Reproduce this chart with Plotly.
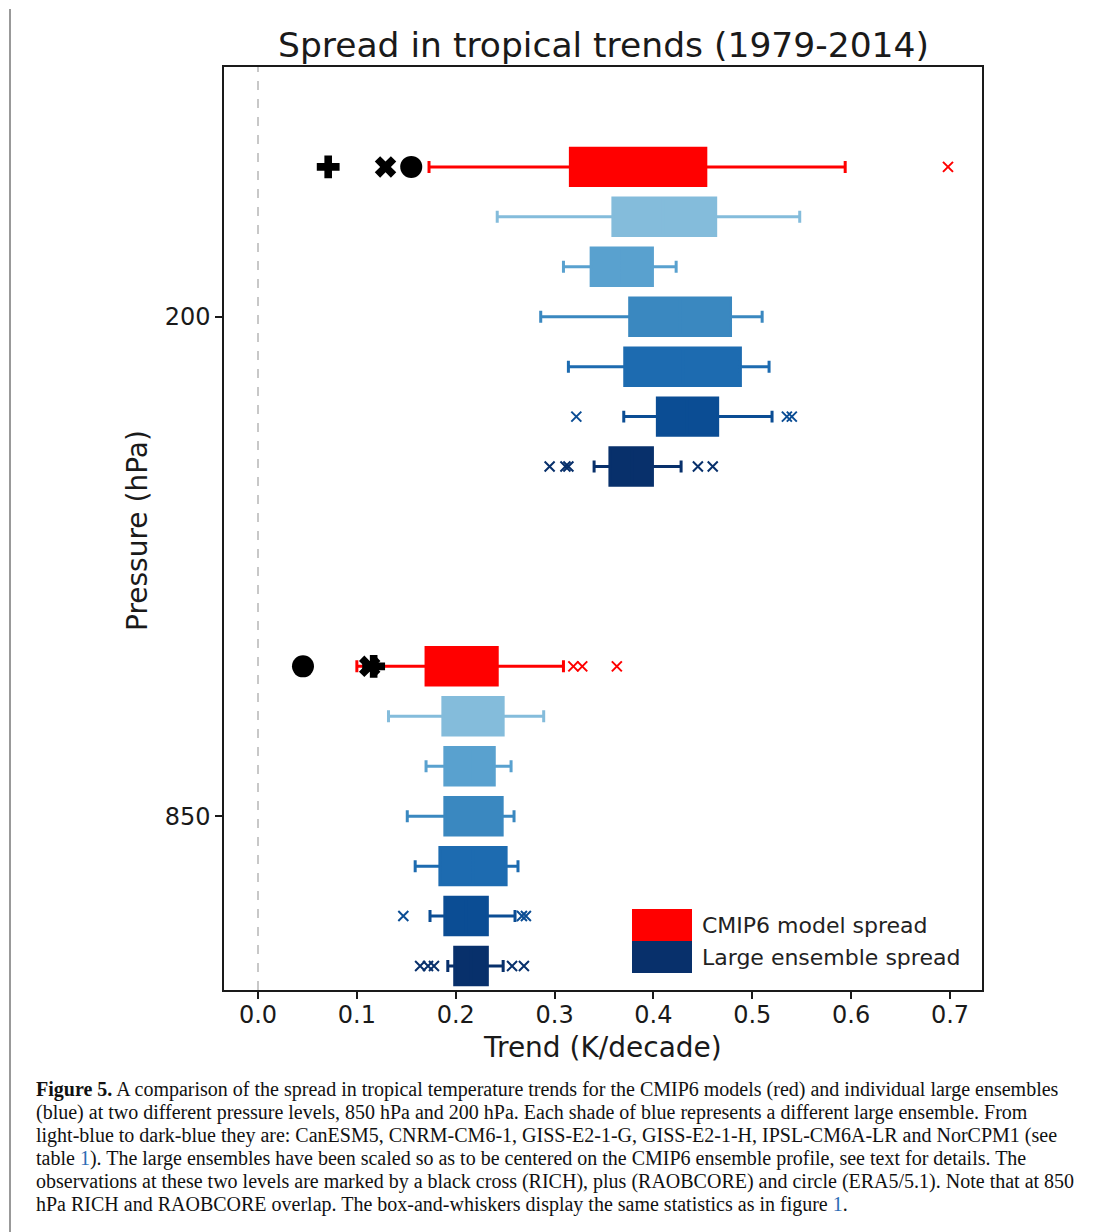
import plotly.graph_objects as go

# ---------------- data ----------------
levels = ["200", "850"]
ensembles = ["CMIP6", "CanESM5", "CNRM-CM6-1", "GISS-E2-1-G",
             "GISS-E2-1-H", "IPSL-CM6A-LR", "NorCPM1"]

# 200 hPa box statistics (K/decade)
whislo_200 = [0.173, 0.242, 0.309, 0.286, 0.314, 0.370, 0.340]
q1_200     = [0.316, 0.359, 0.337, 0.376, 0.371, 0.404, 0.356]
med_200    = [0.385, 0.410, 0.368, 0.427, 0.430, 0.434, 0.378]
q3_200     = [0.453, 0.463, 0.399, 0.478, 0.488, 0.465, 0.399]
whishi_200 = [0.594, 0.548, 0.423, 0.510, 0.517, 0.520, 0.428]
fliers_200 = [[0.698], [], [], [], [], [0.322, 0.535, 0.540],
              [0.295, 0.311, 0.314, 0.445, 0.460]]

# 850 hPa box statistics (K/decade)
whislo_850 = [0.100, 0.132, 0.170, 0.151, 0.159, 0.174, 0.192]
q1_850     = [0.170, 0.187, 0.189, 0.189, 0.184, 0.189, 0.199]
med_850    = [0.205, 0.218, 0.214, 0.218, 0.217, 0.210, 0.215]
q3_850     = [0.242, 0.248, 0.239, 0.247, 0.251, 0.232, 0.232]
whishi_850 = [0.309, 0.289, 0.256, 0.259, 0.263, 0.260, 0.248]
fliers_850 = [[0.319, 0.328, 0.363], [], [], [], [], [0.147, 0.267, 0.271],
              [0.164, 0.172, 0.178, 0.257, 0.269]]

# observations (K/decade) per level: 200, 850
obs_rich     = [0.129, 0.113]   # cross
obs_raobcore = [0.071, 0.117]   # plus
obs_era5     = [0.155, 0.0455]  # circle

x_ticks = [0.0, 0.1, 0.2, 0.3, 0.4, 0.5, 0.6, 0.7]

# ---------------- styles ----------------
colors = ["#ff0000", "#84bcdb", "#59a1cf", "#3a88c0", "#1d6bb0", "#0b4d94", "#08306b"]
font_sans = "DejaVu Sans"
OFF = 8                      # default page body margin of the html page
PW, PH = 1096, 1232          # page size
W, H = PW - OFF, PH - OFF    # figure size
L, R, T, B = 224, 982, 67, 990  # plot area in page pixels


def px_x(p):
    return (p - L) / (R - L)


def px_y(p):
    return (B - p) / (B - T)


def slot(li, ei):
    return 2 + 10 * li + ei


stats = {
    0: (whislo_200, q1_200, med_200, q3_200, whishi_200, fliers_200),
    1: (whislo_850, q1_850, med_850, q3_850, whishi_850, fliers_850),
}

fig = go.Figure()

for li in range(len(levels)):
    lo, q1, md, q3, hi, fl = stats[li]
    for ei in range(len(ensembles)):
        c = colors[ei]
        fig.add_trace(go.Box(
            orientation="h",
            y=[slot(li, ei)],
            q1=[q1[ei]], median=[md[ei]], q3=[q3[ei]],
            lowerfence=[lo[ei]], upperfence=[hi[ei]],
            width=0.75, whiskerwidth=0.32,
            fillcolor=c, line=dict(color=c, width=3),
            boxpoints=False, showlegend=False, hoverinfo="skip",
        ))
        if fl[ei]:
            fig.add_trace(go.Scatter(
                x=fl[ei], y=[slot(li, ei)] * len(fl[ei]), mode="markers",
                marker=dict(symbol="x-thin", size=10,
                            line=dict(color=c, width=2), color=c),
                showlegend=False, hoverinfo="skip",
            ))

# observations
for vals, sym, size in [(obs_raobcore, "cross", 19), (obs_rich, "x", 19),
                        (obs_era5, "circle", 22)]:
    fig.add_trace(go.Scatter(
        x=vals, y=[slot(li, 0) for li in range(len(levels))], mode="markers",
        marker=dict(symbol=sym, size=size, color="black", line=dict(width=0)),
        showlegend=False, hoverinfo="skip",
    ))

fig.add_vline(x=0, line=dict(color="#c8c8c8", width=2, dash="dash"), layer="below")

axis_common = dict(showgrid=False, zeroline=False, showline=True, mirror=True,
                   linecolor="#1a1a1a", linewidth=1.5, ticks="outside", ticklen=7,
                   tickwidth=1.5, tickcolor="#1a1a1a",
                   tickfont=dict(family=font_sans, size=24, color="#1a1a1a"))

fig.update_xaxes(range=[-0.0344, 0.7324], tickvals=x_ticks,
                 ticktext=[f"{v:.1f}" for v in x_ticks], ticklabelstandoff=-5,
                 **axis_common)
fig.update_yaxes(range=[18.48, 0],
                 tickvals=[slot(li, 3) for li in range(len(levels))],
                 ticktext=levels, **axis_common)

shapes = []
# page frame
shapes.append(dict(type="line", xref="paper", yref="paper", x0=px_x(10), x1=px_x(PW),
                   y0=px_y(OFF + 1.5), y1=px_y(OFF + 1.5), line=dict(color="#999999", width=2)))
shapes.append(dict(type="line", xref="paper", yref="paper", x0=px_x(10), x1=px_x(10),
                   y0=px_y(OFF + 1), y1=px_y(PH), line=dict(color="#999999", width=2)))
# legend patches
shapes.append(dict(type="rect", xref="paper", yref="paper", x0=px_x(632), x1=px_x(692),
                   y0=px_y(941), y1=px_y(909), fillcolor=colors[0], line=dict(width=0)))
shapes.append(dict(type="rect", xref="paper", yref="paper", x0=px_x(632), x1=px_x(692),
                   y0=px_y(973), y1=px_y(941), fillcolor=colors[-1], line=dict(width=0)))

annotations = []
annotations.append(dict(text="Spread in tropical trends (1979-2014)", xref="paper", yref="paper",
                        x=0.5, y=px_y(45), xanchor="center", yanchor="middle", showarrow=False,
                        font=dict(family=font_sans, size=34.5, color="#1a1a1a")))
annotations.append(dict(text="Trend (K/decade)", xref="paper", yref="paper",
                        x=px_x(602), y=px_y(1047), xanchor="center", yanchor="middle",
                        showarrow=False, font=dict(family=font_sans, size=28, color="#1a1a1a")))
annotations.append(dict(text="Pressure (hPa)", xref="paper", yref="paper",
                        x=px_x(137), y=px_y(531), xanchor="center", yanchor="middle",
                        textangle=-90, showarrow=False,
                        font=dict(family=font_sans, size=28, color="#1a1a1a")))
for txt, yc in [("CMIP6 model spread", 925), ("Large ensemble spread", 957)]:
    annotations.append(dict(text=txt, xref="paper", yref="paper", x=px_x(700), y=px_y(yc),
                            xanchor="left", yanchor="middle", showarrow=False,
                            font=dict(family=font_sans, size=22, color="#222222")))

link = '<span style="color:#2b6cb5">1</span>'
caption_lines = [
    "<b>Figure 5.</b> A comparison of the spread in tropical temperature trends for the CMIP6 models (red) and individual large ensembles",
    "(blue) at two different pressure levels, 850 hPa and 200 hPa. Each shade of blue represents a different large ensemble. From",
    "light-blue to dark-blue they are: CanESM5, CNRM-CM6-1, GISS-E2-1-G, GISS-E2-1-H, IPSL-CM6A-LR and NorCPM1 (see",
    f"table {link}). The large ensembles have been scaled so as to be centered on the CMIP6 ensemble profile, see text for details. The",
    "observations at these two levels are marked by a black cross (RICH), plus (RAOBCORE) and circle (ERA5/5.1). Note that at 850",
    f"hPa RICH and RAOBCORE overlap. The box-and-whiskers display the same statistics as in figure {link}.",
]
for i, line in enumerate(caption_lines):
    annotations.append(dict(text=line, xref="paper", yref="paper", x=px_x(34),
                            y=px_y(1089 + 23 * i), xanchor="left", yanchor="middle",
                            showarrow=False, align="left",
                            font=dict(family="Liberation Serif", size=20, color="#111111")))

fig.update_layout(
    width=W, height=H,
    margin=dict(l=L - OFF, r=PW - R, t=T - OFF, b=PH - B, pad=0),
    paper_bgcolor="white", plot_bgcolor="white",
    boxmode="overlay", showlegend=False,
    shapes=shapes, annotations=annotations,
)

fig.write_html("out.html")
